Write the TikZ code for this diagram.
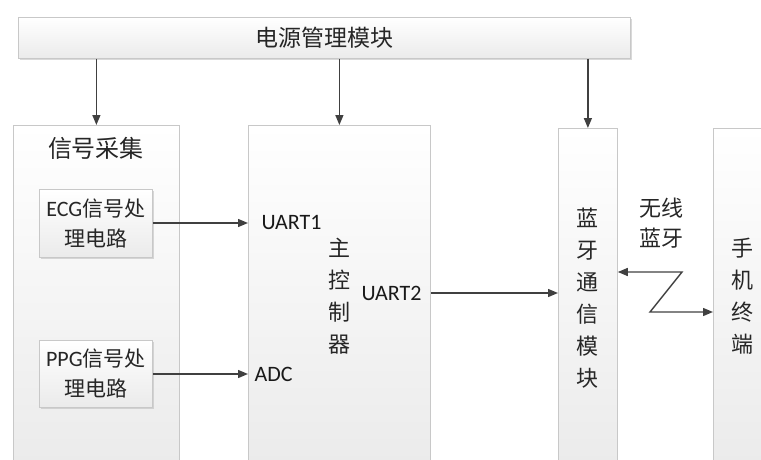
\documentclass[tikz,border=0pt]{standalone}
\usepackage{fontspec}
\setmainfont{Carlito}
\newfontfamily\cjk{Noto Sans CJK SC}
\usetikzlibrary{shadows,arrows.meta}
\definecolor{edge}{HTML}{C8C8C8}
\definecolor{ink}{HTML}{404040}
\tikzset{
  blk/.style={draw=edge, line width=0.8pt, top color=white, bottom color=black!8, inner sep=0pt},
  smallblk/.style={blk, drop shadow={shadow xshift=2pt, shadow yshift=-2pt, fill=black!25, opacity=0.6}},
  conn/.style={draw=ink, line width=1.4pt, -{Triangle[length=10pt,width=8pt]}},
  cjktxt/.style={font=\cjk\fontsize{22}{32}\selectfont, text=black!85, align=center},
  lbl/.style={font=\fontsize{22}{24}\selectfont, text=black!90}
}
\begin{document}
\begin{tikzpicture}[x=1pt,y=-1pt]
\useasboundingbox (0,0) rectangle (761,460);
\clip (0,0) rectangle (761,460);
% power management
\node[smallblk, minimum width=612pt, minimum height=41pt, anchor=north west] (pwr) at (18,17) {};
\node[cjktxt, font=\cjk\fontsize{23}{28}\selectfont] (pwrt) at (pwr.center) {电源管理模块};
% big blocks
\node[blk, minimum width=166pt, minimum height=345pt, anchor=north west] (sig) at (13,125) {};
\node[blk, minimum width=182pt, minimum height=345pt, anchor=north west] (mcu) at (248,125) {};
\node[blk, minimum width=59pt, minimum height=342pt, anchor=north west] (bt) at (558,128) {};
\node[blk, minimum width=62pt, minimum height=342pt, anchor=north west] (ph) at (713,128) {};
% titles
\node[cjktxt, font=\cjk\fontsize{24}{28}\selectfont] (sigt) at (96,148) {信号采集};
\node[cjktxt] (mcut) at (339,296) {主\\控\\制\\器};
\node[cjktxt] (btt) at (587,298) {蓝\\牙\\通\\信\\模\\块};
\node[cjktxt] (pht) at (742,296) {手\\机\\终\\端};
\node[cjktxt, font=\cjk\fontsize{22}{30}\selectfont] (wl) at (661,223) {无线\\蓝牙};
% small blocks
\node[smallblk, minimum width=113pt, minimum height=68pt, anchor=north west] (ecg) at (39,189) {};
\node[cjktxt, font=\fontsize{22}{30}\selectfont] (ecgt) at (ecg.center) {ECG{\cjk\fontsize{21}{30}\selectfont 信号处}\\{\cjk\fontsize{21}{30}\selectfont 理电路}};
\node[smallblk, minimum width=113pt, minimum height=67pt, anchor=north west] (ppg) at (39,340) {};
\node[cjktxt, font=\fontsize{22}{30}\selectfont] (ppgt) at (ppg.center) {PPG{\cjk\fontsize{21}{30}\selectfont 信号处}\\{\cjk\fontsize{21}{30}\selectfont 理电路}};
% port labels
\node[lbl, anchor=west] (u1) at (258,223) {UART1};
\node[lbl, anchor=east] (u2) at (425,293) {UART2};
\node[lbl, anchor=west] (adc) at (251,374) {ADC};
% power arrows
\draw[conn] (pwr.south -| sig.north) -- (sig.north);
\draw[conn] (pwr.south -| mcu.north) -- (mcu.north);
\draw[conn] (pwr.south -| bt.north) -- (bt.north);
% signal arrows
\draw[conn] (ecg.east |- 0,223) -- (mcu.west |- 0,223);
\draw[conn] (ppg.east |- 0,374) -- (mcu.west |- 0,374);
\draw[conn] (mcu.east |- 0,293) -- (bt.west |- 0,293);
% wireless zigzag
\coordinate (z1) at (682,272);
\coordinate (z2) at (650,312);
\draw[conn, {Triangle[length=10pt,width=8pt]}-{Triangle[length=10pt,width=8pt]}] (bt.east |- z1) -- (z1) -- (z2) -- (ph.west |- z2);
\end{tikzpicture}
\end{document}
